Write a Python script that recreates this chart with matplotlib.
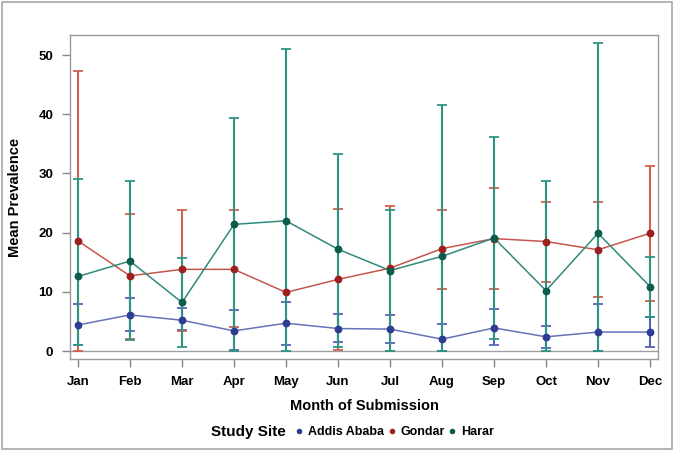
import matplotlib.pyplot as plt
import numpy as np
from matplotlib.lines import Line2D
from matplotlib.patches import Rectangle

plt.rcParams['font.family'] = ['Liberation Sans', 'DejaVu Sans']
plt.rcParams['font.weight'] = 'bold'

months = ["Jan", "Feb", "Mar", "Apr", "May", "Jun",
          "Jul", "Aug", "Sep", "Oct", "Nov", "Dec"]

# mean prevalence and error bar limits
addis = [4.4, 6.1, 5.2, 3.4, 4.7, 3.8, 3.7, 2.0, 3.9, 2.4, 3.2, 3.2]
addis_lo = [1.0, 3.3, 3.5, 0.2, 1.1, 1.5, 1.3, 0.0, 1.0, 0.45, 0.0, 0.6]
addis_hi = [7.9, 9.0, 7.2, 6.9, 8.2, 6.25, 6.1, 4.5, 7.1, 4.3, 7.9, 5.8]

gondar = [18.6, 12.7, 13.8, 13.8, 9.9, 12.1, 14.0, 17.3, 19.0, 18.5, 17.1, 19.9]
gondar_lo = [0.0, 2.0, 3.4, 4.1, np.nan, 0.2, 0.0, 10.5, 10.5, 11.7, 9.1, 8.4]
gondar_hi = [47.4, 23.1, 23.8, 23.8, np.nan, 24.0, 24.5, 23.9, 27.5, 25.2, 25.1, 31.3]

harar = [12.6, 15.2, 8.2, 21.4, 22.0, 17.2, 13.6, 16.0, 19.1, 10.2, 19.9, 10.9]
harar_lo = [1.0, 1.9, 0.6, 0.0, 0.0, 0.7, 0.0, 0.0, 2.1, 0.0, 0.0, 5.8]
harar_hi = [29.0, 28.7, 15.7, 39.4, 51.0, 33.3, 23.8, 41.6, 36.2, 28.7, 52.0, 15.9]

sites = ["Addis Ababa", "Gondar", "Harar"]
marker_cols = ["#2E3C94", "#9E1F1F", "#0B5C4C"]
line_cols = ["#6572B8", "#C4574D", "#2F8A7C"]
err_cols = ["#5565B5", "#D0604F", "#2E9585"]

fig = plt.figure(figsize=(6.75, 4.51), dpi=100)
ax = fig.add_axes([70/675, 1-359/451, 588/675, 324/451])

x = np.arange(len(months))
series = [(addis, addis_lo, addis_hi), (gondar, gondar_lo, gondar_hi),
          (harar, harar_lo, harar_hi)]

ax.axhline(0, color="#A0A0A0", lw=1, zorder=1)

for i, (m, lo, hi) in enumerate(series):
    m = np.array(m); lo = np.array(lo); hi = np.array(hi)
    ax.errorbar(x, m, yerr=[m - lo, hi - m], fmt='none', ecolor=err_cols[i],
                elinewidth=1.5, capsize=3.5, capthick=1.3, zorder=2 + i)
    ax.plot(x, m, '-', color=line_cols[i], lw=1.1, zorder=5 + i)
    ax.plot(x, m, 'o', color=marker_cols[i], ms=4.6, zorder=8 + i)

ax.set_xlim(-8/52, 11 + 8/52)
ax.set_ylim(-1.35, 53.4)
ax.set_xticks(x)
ax.set_xticklabels(months)
ax.set_yticks([0, 10, 20, 30, 40, 50])
ax.tick_params(axis='both', colors="#888888", labelcolor="black",
               labelsize=9.5, length=6, width=1, direction='out', pad=6)
for s in ax.spines.values():
    s.set_color("#9A9A9A")
    s.set_linewidth(1)

ax.set_xlabel("Month of Submission", fontsize=10.5, fontweight='bold', labelpad=8)
ax.set_ylabel("Mean Prevalence", fontsize=10.5, fontweight='bold', labelpad=12)

fig.text(248/675, 1-432/451, "Study Site", fontsize=11, fontweight='bold',
         ha='center', va='center')
handles = [Line2D([], [], ls='none', marker='o', ms=3, color=c) for c in marker_cols]
fig.legend(handles, sites, loc='center left', bbox_to_anchor=(288/675, 1-432/451),
           ncol=3, frameon=False, handlelength=0.8, handletextpad=0.3,
           columnspacing=0.2, borderpad=0, prop={'size': 9, 'weight': 'bold'})

fig.patches.append(Rectangle((0.003, 0.005), 0.992, 0.99, transform=fig.transFigure,
                             fill=False, edgecolor="#A8A8A8", lw=1.2))

fig.savefig("out.png", dpi=100)
